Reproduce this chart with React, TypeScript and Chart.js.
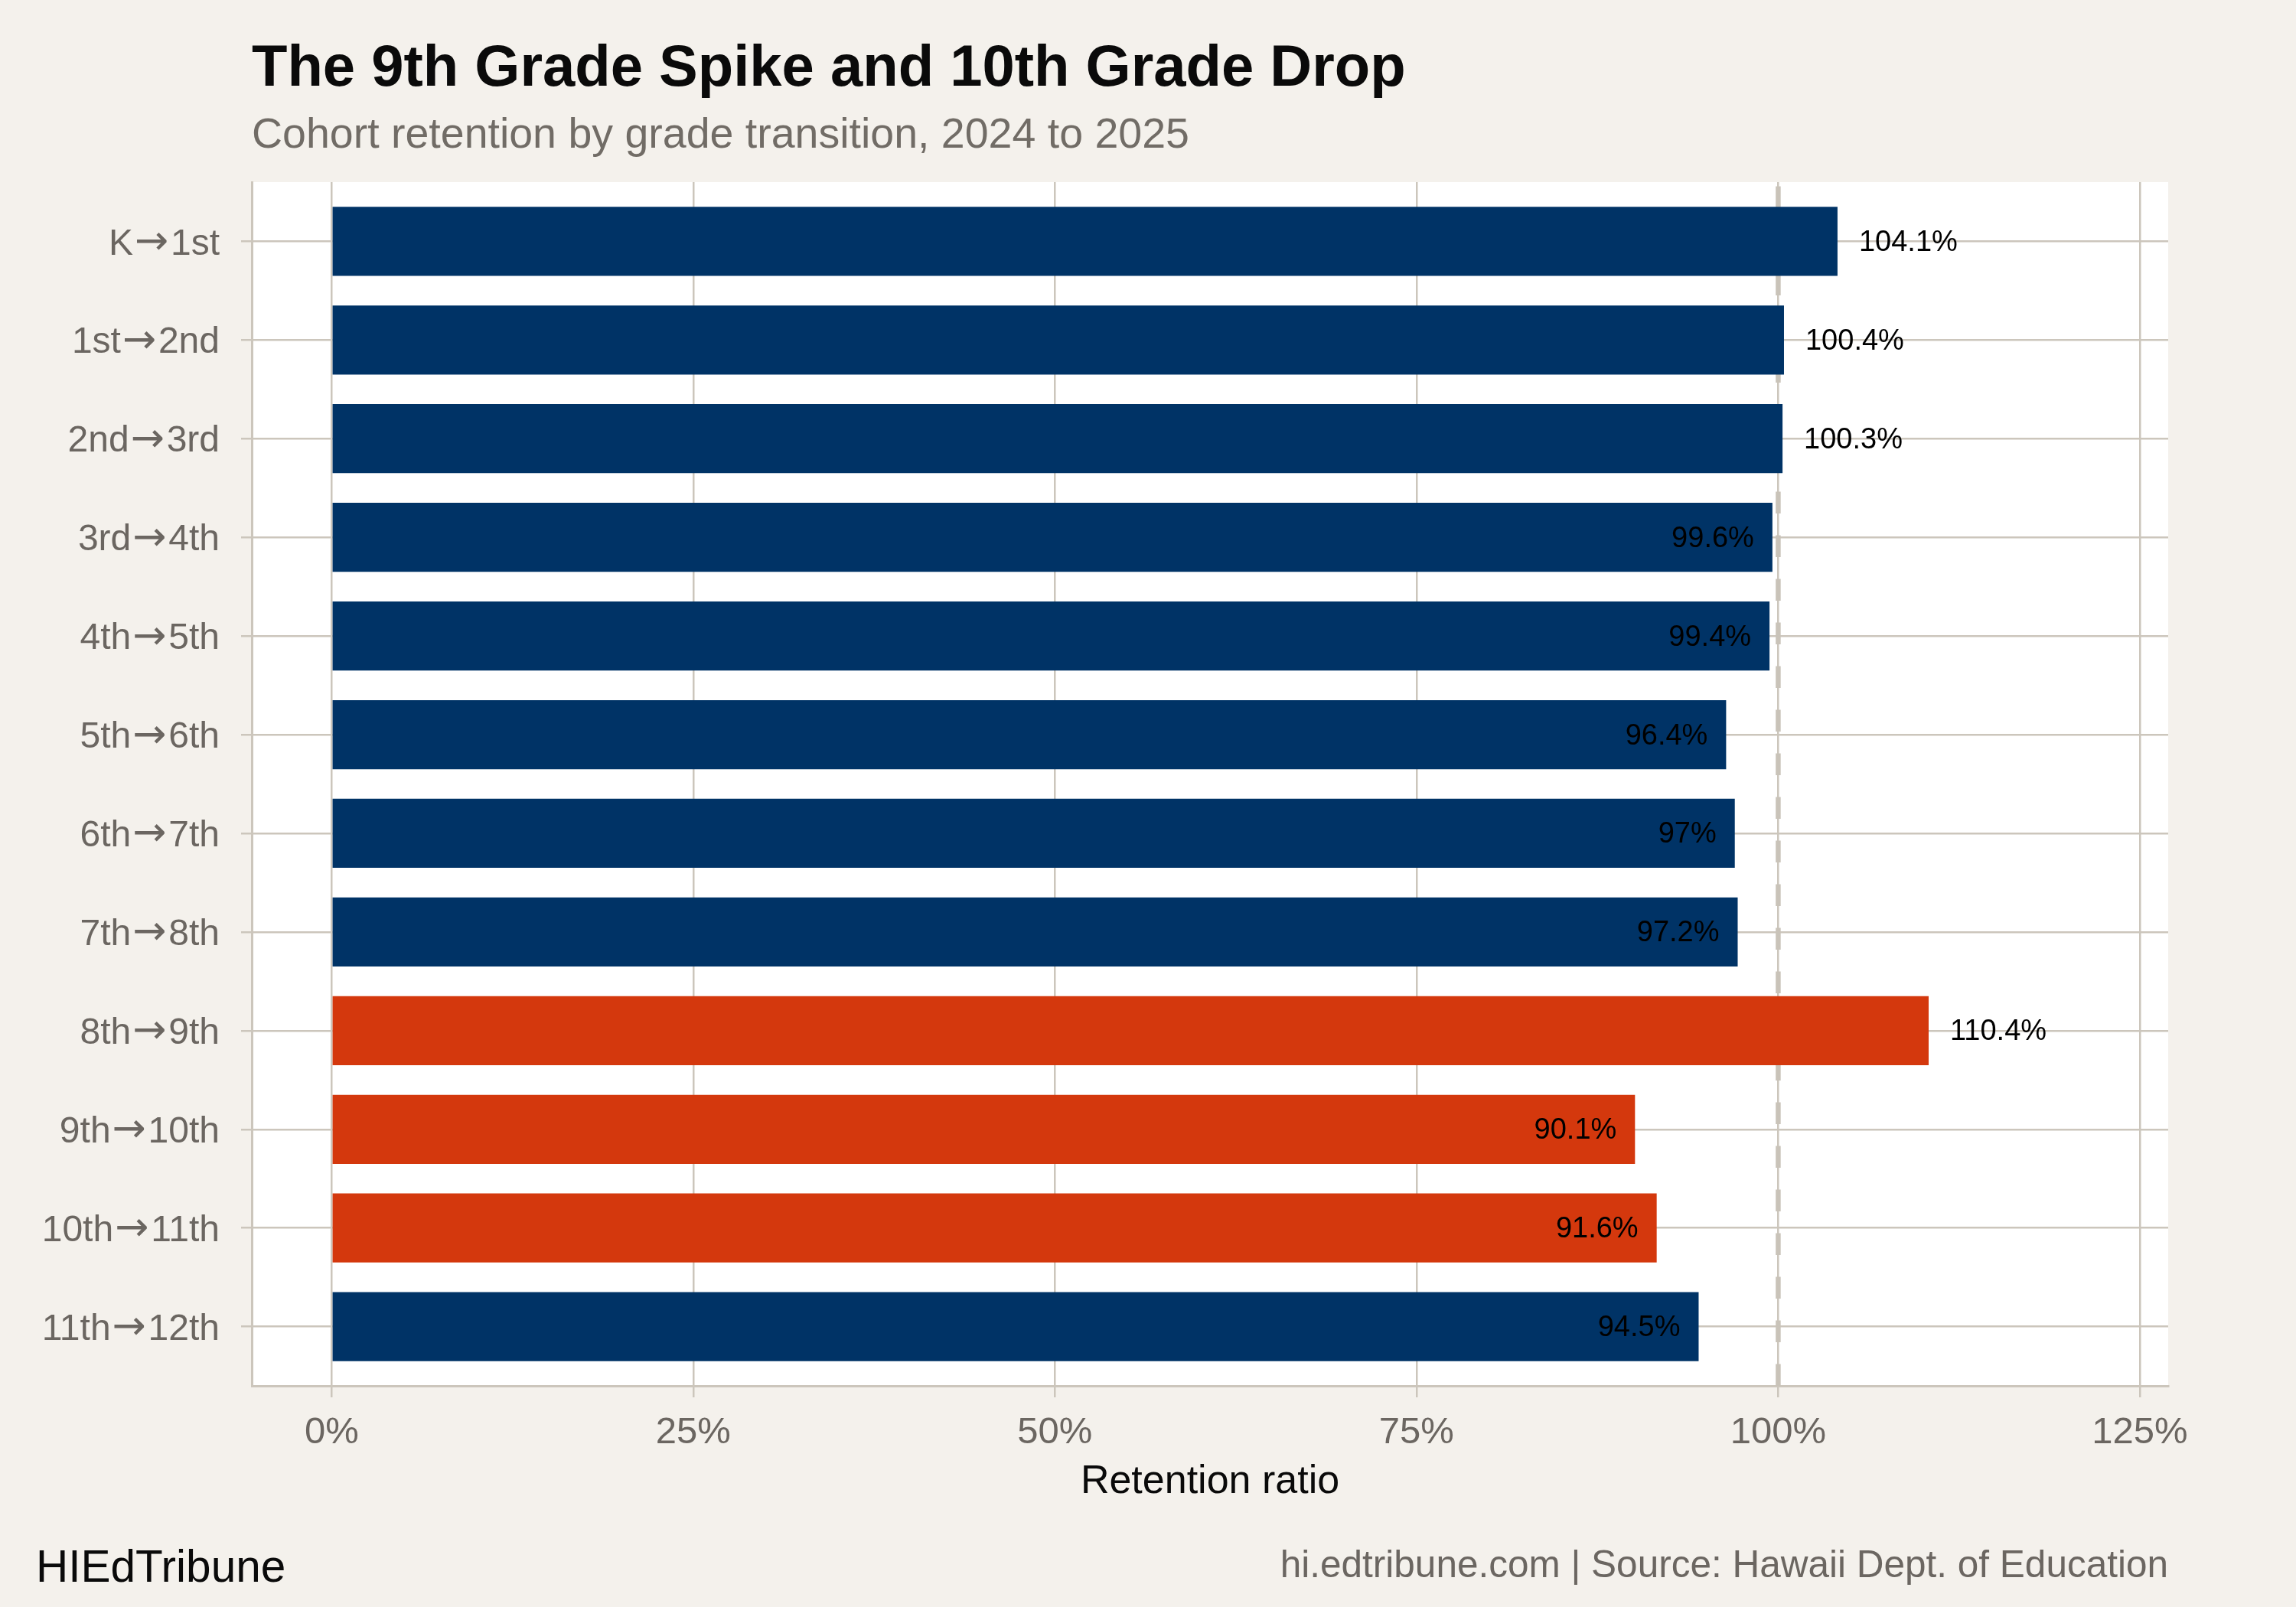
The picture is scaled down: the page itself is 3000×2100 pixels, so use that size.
import { useEffect, useRef } from "react";
import { Chart, registerables } from "chart.js";

Chart.register(...registerables);

const transitions = [
  "K→1st",
  "1st→2nd",
  "2nd→3rd",
  "3rd→4th",
  "4th→5th",
  "5th→6th",
  "6th→7th",
  "7th→8th",
  "8th→9th",
  "9th→10th",
  "10th→11th",
  "11th→12th",
];
const retention = [104.1, 100.4, 100.3, 99.6, 99.4, 96.4, 97, 97.2, 110.4, 90.1, 91.6, 94.5];
const highlighted = ["8th→9th", "9th→10th", "10th→11th"];
const xTicks = [0, 25, 50, 75, 100, 125];

const FONT = "'Liberation Sans', Arial, Helvetica, sans-serif";
const ARROW_FONT = "'DejaVu Sans', sans-serif";
const BG = "#F4F1EC";
const GRID = "#CCC6BC";
const NAVY = "#003366";
const ORANGE = "#D4380D";
const TICK_TEXT = "#6B6661";

const backgroundPlugin = {
  id: "panelBackground",
  beforeDraw(chart: any) {
    const { ctx, chartArea } = chart;
    ctx.save();
    ctx.fillStyle = BG;
    ctx.fillRect(0, 0, chart.width, chart.height);
    ctx.fillStyle = "#FFFFFF";
    ctx.fillRect(chartArea.left, chartArea.top, chartArea.right - chartArea.left, chartArea.bottom - chartArea.top);
    ctx.restore();
  },
};

const referenceLinePlugin = {
  id: "referenceLine",
  beforeDatasetsDraw(chart: any) {
    const { ctx, chartArea, scales } = chart;
    const x = scales.x.getPixelForValue(100);
    ctx.save();
    ctx.strokeStyle = "#C9C3B9";
    ctx.lineWidth = 6.5;
    ctx.setLineDash([28.5, 28.5]);
    ctx.beginPath();
    ctx.moveTo(x, chartArea.bottom);
    ctx.lineTo(x, chartArea.top);
    ctx.stroke();
    ctx.restore();
  },
};

const valueLabelPlugin = {
  id: "valueLabels",
  afterDatasetsDraw(chart: any) {
    const { ctx } = chart;
    const meta = chart.getDatasetMeta(0);
    ctx.save();
    ctx.font = `38px ${FONT}`;
    ctx.fillStyle = "#000000";
    ctx.textBaseline = "middle";
    meta.data.forEach((bar: any, i: number) => {
      const v = retention[i];
      const text = `${Number(v.toFixed(1))}%`;
      if (v > 100) {
        ctx.textAlign = "left";
        ctx.fillText(text, bar.x + 28, bar.y + 2);
      } else {
        ctx.textAlign = "right";
        ctx.fillText(text, bar.x - 24, bar.y + 2);
      }
    });
    ctx.restore();
  },
};

// category labels: digits in the sans face, the arrow from DejaVu so it has the wide shape
const categoryLabelPlugin = {
  id: "categoryLabels",
  afterDraw(chart: any) {
    const { ctx, scales } = chart;
    const size = 48;
    const rightX = 287;
    ctx.save();
    ctx.fillStyle = TICK_TEXT;
    ctx.textBaseline = "alphabetic";
    ctx.textAlign = "left";

    ctx.font = `100px ${ARROW_FONT}`;
    const probe = ctx.measureText("→");
    const probeInk = probe.actualBoundingBoxLeft + probe.actualBoundingBoxRight;
    const arrowSize = (39 / probeInk) * 100;
    ctx.font = `${arrowSize}px ${ARROW_FONT}`;
    const am = ctx.measureText("→");
    const arrowInk = am.actualBoundingBoxLeft + am.actualBoundingBoxRight;
    const gap = 5;

    transitions.forEach((label, i) => {
      const [a, b] = label.split("→");
      const cy = scales.y.getPixelForValue(i);
      ctx.font = `${size}px ${FONT}`;
      const wa = ctx.measureText(a).width;
      const wb = ctx.measureText(b).width;
      const total = wa + gap + arrowInk + gap + wb;
      const x0 = rightX - total;
      const baseline = cy + size * 0.716 / 2;
      ctx.fillText(a, x0, baseline);
      ctx.fillText(b, x0 + wa + gap + arrowInk + gap, baseline);
      ctx.font = `${arrowSize}px ${ARROW_FONT}`;
      const arrowBase = cy + (am.actualBoundingBoxAscent - am.actualBoundingBoxDescent) / 2;
      ctx.fillText("→", x0 + wa + gap + am.actualBoundingBoxLeft, arrowBase);
    });
    ctx.restore();
  },
};

const textPlugin = {
  id: "pageText",
  afterDraw(chart: any) {
    const { ctx, chartArea } = chart;
    ctx.save();
    ctx.textBaseline = "alphabetic";

    ctx.textAlign = "left";
    ctx.fillStyle = "#0A0A0A";
    ctx.font = `bold 76px ${FONT}`;
    ctx.fillText("The 9th Grade Spike and 10th Grade Drop", 329, 112);

    ctx.fillStyle = "#716C66";
    ctx.font = `55.5px ${FONT}`;
    ctx.fillText("Cohort retention by grade transition, 2024 to 2025", 329, 193);

    ctx.textAlign = "center";
    ctx.fillStyle = "#0A0A0A";
    ctx.font = `52px ${FONT}`;
    ctx.fillText("Retention ratio", (chartArea.left + chartArea.right) / 2, 1951);

    ctx.textAlign = "left";
    ctx.font = `58.5px ${FONT}`;
    ctx.fillText("HIEdTribune", 47, 2067);

    ctx.textAlign = "right";
    ctx.fillStyle = "#6B6661";
    ctx.font = `49.5px ${FONT}`;
    ctx.fillText("hi.edtribune.com | Source: Hawaii Dept. of Education", chartArea.right, 2061);
    ctx.restore();
  },
};

const RetentionChart = () => {
  const chartRef = useRef<HTMLCanvasElement | null>(null);
  const chartInstanceRef = useRef<Chart | null>(null);

  useEffect(() => {
    document.body.style.margin = "0";
    document.body.style.background = BG;
    if (!chartRef.current) return;
    const ctx = chartRef.current.getContext("2d");
    if (!ctx) return;
    if (chartInstanceRef.current) chartInstanceRef.current.destroy();

    chartInstanceRef.current = new Chart(ctx, {
      type: "bar",
      data: {
        datasets: [
          {
            data: retention.map((v, i) => ({ x: v, y: i })) as any,
            backgroundColor: transitions.map((t) => (highlighted.includes(t) ? ORANGE : NAVY)),
            borderWidth: 0,
            barPercentage: 0.7,
            categoryPercentage: 1,
          },
        ],
      },
      options: {
        indexAxis: "y",
        animation: false,
        responsive: false,
        devicePixelRatio: 1,
        layout: { padding: { top: 238, right: 167, left: 0, bottom: 0 } },
        plugins: {
          legend: { display: false },
          tooltip: { enabled: false },
          title: { display: false },
        },
        scales: {
          x: {
            type: "linear",
            position: "bottom",
            min: -5.52,
            max: 126.96,
            afterBuildTicks: (scale: any) => {
              scale.ticks = xTicks.map((value) => ({ value }));
            },
            afterFit: (scale: any) => {
              scale.height = 289;
            },
            ticks: {
              callback: (value: any) => `${value}%`,
              color: TICK_TEXT,
              font: { family: FONT, size: 49 },
              padding: 17,
              maxRotation: 0,
              autoSkip: false,
            },
            grid: { color: GRID, lineWidth: 2.5, tickLength: 15, drawTicks: true },
            border: { display: true, color: GRID, width: 3 },
          },
          y: {
            type: "linear",
            reverse: true,
            offset: false,
            min: -0.6,
            max: 11.6,
            afterBuildTicks: (scale: any) => {
              scale.ticks = transitions.map((_, i) => ({ value: i }));
            },
            afterFit: (scale: any) => {
              scale.width = 329;
            },
            ticks: {
              callback: () => "",
              autoSkip: false,
            },
            grid: { color: GRID, lineWidth: 2.5, tickLength: 14, drawTicks: true, offset: false },
            border: { display: true, color: GRID, width: 3 },
          },
        },
      },
      plugins: [backgroundPlugin, referenceLinePlugin, valueLabelPlugin, categoryLabelPlugin, textPlugin],
    });

    return () => {
      if (chartInstanceRef.current) {
        chartInstanceRef.current.destroy();
        chartInstanceRef.current = null;
      }
    };
  }, []);

  return (
    <canvas
      ref={chartRef}
      width={3000}
      height={2100}
      style={{ display: "block", width: "3000px", height: "2100px" }}
    />
  );
};

export default function App() {
  return <RetentionChart />;
}
